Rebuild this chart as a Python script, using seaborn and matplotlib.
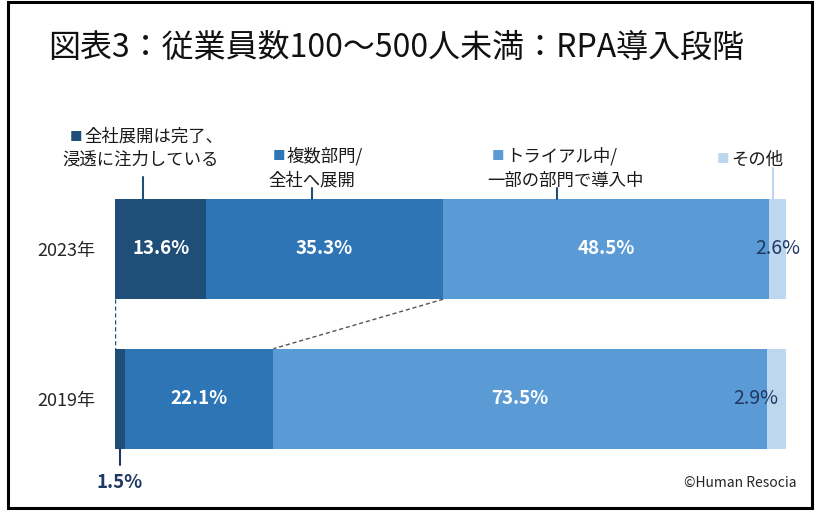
import numpy as np
import pandas as pd
import seaborn as sns
import matplotlib.pyplot as plt
from matplotlib.patches import Rectangle

# data
years = ["2023年", "2019年"]
stages = ["全社展開は完了、\n浸透に注力している", "複数部門/\n全社へ展開",
          "トライアル中/\n一部の部門で導入中", "その他"]
share_2023 = [13.6, 35.3, 48.5, 2.6]
share_2019 = [1.5, 22.1, 73.5, 2.9]
colors = ["#1F4E79", "#2E75B6", "#5B9BD5", "#BDD7EE"]

sns.set_theme(style="white")
plt.rcParams['font.family'] = ['Noto Sans CJK JP', 'DejaVu Sans']

W, H = 818, 526
fx = lambda p: p / W
fy = lambda p: 1 - p / H

vals = np.array([share_2023, share_2019])
cum = vals.cumsum(axis=1)
starts = cum - vals

fig = plt.figure(figsize=(W / 100, H / 100), dpi=100)
ax = fig.add_axes([fx(115), fy(474), fx(786) - fx(115), 300 / H])

# stacked bars: draw cumulative totals from right to left
for i in reversed(range(len(stages))):
    df = pd.DataFrame({"year": years, "cum": cum[:, i]})
    sns.barplot(data=df, x="cum", y="year", color=colors[i], saturation=1,
                width=0.67, orient="h", linewidth=0, ax=ax)

ax.set_xlim(0, 100)
ax.set_ylim(1.5, -0.5)
ax.set_xlabel("")
ax.set_ylabel("")
ax.set_xticks([])
sns.despine(ax=ax, left=True, bottom=True)
ax.tick_params(axis="y", length=0, pad=14, labelsize=13, labelcolor="#262626")

# value labels
for r in range(2):
    for i in range(4):
        mid = starts[r, i] + vals[r, i] / 2
        txt = f"{vals[r, i]:.1f}%"
        if i < 3 and vals[r, i] > 5:
            ax.text(mid, r, txt, ha="center", va="center", color="white",
                    fontsize=13.5, fontweight="bold")
        elif i == 3:
            xpos = mid if r == 0 else mid - 3
            ax.text(xpos, r, txt, ha="center", va="center", color="#1F3864",
                    fontsize=14)

# 1.5% label below 2019 bar
mid15 = starts[1, 0] + vals[1, 0] / 2
ax.plot([mid15, mid15], [1.335, 1.44], color="#1F3864", lw=1.5, clip_on=False)
ax.text(mid15, 1.555, f"{vals[1, 0]:.1f}%", ha="center", va="center",
        color="#1F3864", fontsize=13.5, fontweight="bold", clip_on=False)

# dashed connectors between bars
ax.plot([0, 0], [0.335, 0.665], color="#1F4E79", lw=1, ls=(0, (3, 2)))
ax.plot([cum[0, 1], cum[1, 1]], [0.335, 0.665], color="#555555", lw=1,
        ls=(0, (3, 2)))

# category labels with leader lines
leaders = [(4.2, -0.48, "#1F4E79"), (29.4, -0.41, "#1F4E79"),
           (65.9, -0.41, "#1F4E79"), (98.1, -0.54, "#BDD7EE")]
for x, ytop, c in leaders:
    ax.plot([x, x], [ytop, -0.335], color=c, lw=1.5, clip_on=False)

label_pos = [(70, 137, 62, 160), (273, 156, 268, 181),
             (492, 156, 487, 181), (717, 160, None, None)]
for (sx, sy, x2, y2), name, c in zip(label_pos, stages, colors):
    lines = name.split("\n")
    fig.text(fx(sx), fy(sy), "■", color=c, fontsize=9, va="center", ha="left")
    fig.text(fx(sx + 14), fy(sy), lines[0], fontsize=12.5, va="center",
             ha="left", color="#1a1a1a")
    if len(lines) > 1:
        fig.text(fx(x2), fy(y2), lines[1], fontsize=12.5, va="center",
                 ha="left", color="#1a1a1a")

# title, credit, frame
fig.text(fx(396), fy(48), "図表3：従業員数100～500人未満：RPA導入段階",
         ha="center", va="center", fontsize=23, color="#111111")
fig.text(fx(797), fy(483), "©Human Resocia", ha="right", va="center",
         fontsize=10, color="#262626")
fig.patches.append(Rectangle((fx(8), fy(508)), fx(812) - fx(8), fy(2) - fy(508),
                             transform=fig.transFigure, fill=False,
                             edgecolor="black", lw=2.2))

fig.savefig("out.png", dpi=100)
